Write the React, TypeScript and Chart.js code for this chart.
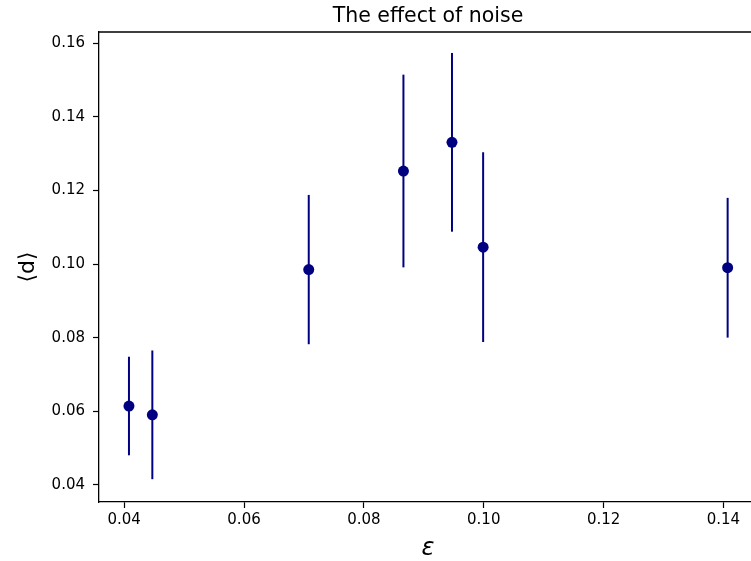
import { useEffect, useRef } from "react";
import { Chart, registerables } from "chart.js";

Chart.register(...registerables);

// Noise level ε and the mean distance ⟨d⟩ measured at each level, with its error.
const epsilon = [0.0408, 0.0447, 0.0708, 0.0866, 0.0947, 0.0999, 0.1407];
const meanD = [0.0614, 0.059, 0.0985, 0.1253, 0.1331, 0.1046, 0.099];
const errD = [0.0134, 0.0175, 0.0203, 0.0262, 0.0243, 0.0258, 0.019];

const xTicks = [0.04, 0.06, 0.08, 0.1, 0.12, 0.14];
const yTicks = [0.04, 0.06, 0.08, 0.1, 0.12, 0.14, 0.16];

const NAVY = "#000080";
const FONT = "'DejaVu Sans', sans-serif";

// Vertical error bars, drawn beneath the markers.
const errorBars = {
  id: "errorBars",
  beforeDatasetsDraw(chart: any) {
    const { ctx, scales } = chart;
    const x = scales.x;
    const y = scales.y;
    ctx.save();
    ctx.strokeStyle = NAVY;
    ctx.lineWidth = 2;
    epsilon.forEach((e, i) => {
      const px = x.getPixelForValue(e);
      ctx.beginPath();
      ctx.moveTo(px, y.getPixelForValue(meanD[i] - errD[i]));
      ctx.lineTo(px, y.getPixelForValue(meanD[i] + errD[i]));
      ctx.stroke();
    });
    ctx.restore();
  },
};

// Top and right spines of the axes box.
const frame = {
  id: "frame",
  afterDraw(chart: any) {
    const { ctx, chartArea } = chart;
    ctx.save();
    ctx.strokeStyle = "#000";
    ctx.lineWidth = 1.5;
    ctx.beginPath();
    ctx.moveTo(chartArea.left, chartArea.top);
    ctx.lineTo(chartArea.right, chartArea.top);
    ctx.lineTo(chartArea.right, chartArea.bottom);
    ctx.stroke();
    ctx.restore();
  },
};

export default function App() {
  const canvasRef = useRef<HTMLCanvasElement | null>(null);

  useEffect(() => {
    if (!canvasRef.current) return;
    const tickFont = { family: FONT, size: 15 };
    const tickGrid = {
      drawOnChartArea: false,
      drawTicks: true,
      tickLength: 6,
      tickColor: "#000",
      tickWidth: 1.2,
    };
    const chart = new Chart(canvasRef.current, {
      type: "scatter",
      data: {
        datasets: [
          {
            data: epsilon.map((e, i) => ({ x: e, y: meanD[i] })),
            pointRadius: 5.5,
            pointHoverRadius: 5.5,
            pointBackgroundColor: NAVY,
            pointBorderWidth: 0,
          },
        ],
      },
      options: {
        animation: false,
        responsive: false,
        devicePixelRatio: 1,
        layout: { padding: { left: 0, right: 13, top: 0, bottom: 0 } },
        plugins: {
          legend: { display: false },
          tooltip: { enabled: false },
          title: {
            display: true,
            text: "The effect of noise",
            fullSize: false,
            color: "#000",
            font: { family: FONT, size: 20.5, weight: "normal" },
            padding: { top: 4, bottom: 3.4 },
          },
        },
        scales: {
          x: {
            type: "linear",
            min: 0.0358,
            max: 0.1456,
            afterBuildTicks: (s: any) => {
              s.ticks = xTicks.map((value) => ({ value }));
            },
            afterFit: (s: any) => {
              s.height = 59;
            },
            ticks: {
              color: "#000",
              font: tickFont,
              padding: 3,
              maxRotation: 0,
              callback: (v: any) => Number(v).toFixed(2),
            },
            grid: tickGrid,
            border: { display: true, color: "#000", width: 1.3 },
            title: {
              display: true,
              text: "ε",
              color: "#000",
              font: { family: FONT, size: 24, style: "italic" },
              padding: { top: 0, bottom: -2 },
            },
          },
          y: {
            type: "linear",
            min: 0.0353,
            max: 0.1631,
            afterBuildTicks: (s: any) => {
              s.ticks = yTicks.map((value) => ({ value }));
            },
            afterFit: (s: any) => {
              s.width = 99;
            },
            ticks: {
              color: "#000",
              font: tickFont,
              padding: 8,
              callback: (v: any) => Number(v).toFixed(2),
            },
            grid: tickGrid,
            border: { display: true, color: "#000", width: 1.3 },
            title: {
              display: true,
              text: "⟨d⟩",
              color: "#000",
              font: { family: FONT, size: 22 },
              padding: { top: 15, bottom: 0 },
            },
          },
        },
      },
      plugins: [errorBars, frame],
    });
    return () => chart.destroy();
  }, []);

  return (
    <div
      style={{
        position: "absolute",
        left: 0,
        top: 0,
        width: 751,
        height: 561,
        overflow: "hidden",
        background: "#fff",
      }}
    >
      <canvas ref={canvasRef} width={770} height={561} style={{ display: "block" }} />
    </div>
  );
}
